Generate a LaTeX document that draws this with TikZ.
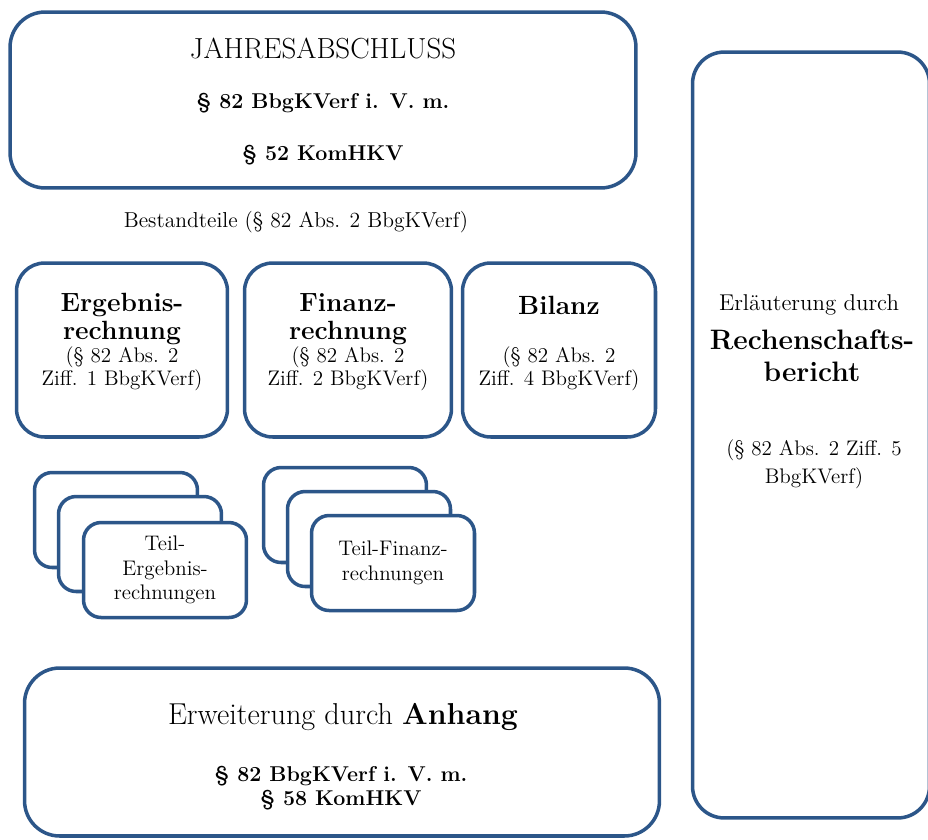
\documentclass[tikz,border=0pt]{standalone}
\usepackage{tikz}
\usetikzlibrary{positioning}
\definecolor{FrameBlue}{HTML}{2C5689}

\begin{document}
\begin{tikzpicture}[
  x=0.02cm,y=-0.02cm,
  box/.style={draw=FrameBlue,line width=2pt,rounded corners=16pt,fill=white,inner sep=0pt},
  card/.style={draw=FrameBlue,line width=2pt,rounded corners=10pt,fill=white,inner sep=0pt,
               minimum width=3.26cm,minimum height=1.9cm,align=center,
               font=\fontsize{12}{14}\selectfont},
  head/.style={align=center,inner sep=0pt,font=\bfseries\fontsize{15}{16}\selectfont},
  ref/.style={align=center,inner sep=0pt,font=\fontsize{12}{13}\selectfont},
  law/.style={align=center,inner sep=0pt,font=\bfseries\fontsize{12.2}{14}\selectfont},
]
\useasboundingbox (0,0) rectangle (928,839);

% Jahresabschluss
\node[box,rounded corners=20pt,minimum width=12.52cm,minimum height=3.52cm] (jab) at (323,100) {};
\node[inner sep=0pt,font=\fontsize{16.5}{18}\selectfont] (jabtitle) at (323,48) {JAHRESABSCHLUSS};
\node[law] (jablaw1) at (323,103) {\S\ 82 BbgKVerf i. V. m.};
\node[law] (jablaw2) at (323,155) {\S\ 52 KomHKV};
\node[inner sep=0pt,font=\fontsize{12.3}{14}\selectfont] (bestand) at (296,222) {Bestandteile (\S\ 82 Abs. 2 BbgKVerf)};

% Bestandteile
\node[box,minimum width=4.22cm,minimum height=3.48cm] (erg) at (122,350) {};
\node[box,minimum width=4.14cm,minimum height=3.48cm] (fin) at (348,350) {};
\node[box,minimum width=3.86cm,minimum height=3.48cm] (bil) at (559,350) {};
\node[head] (ergtitle) at (122,319) {Ergebnis-\\rechnung};
\node[ref] (ergref) at (122,369) {(\S\ 82 Abs. 2\\Ziff. 1 BbgKVerf)};
\node[head] (fintitle) at (348,319) {Finanz-\\rechnung};
\node[ref] (finref) at (348,369) {(\S\ 82 Abs. 2\\Ziff. 2 BbgKVerf)};
\node[head] (biltitle) at (559,305) {Bilanz};
\node[ref] (bilref) at (559,369) {(\S\ 82 Abs. 2\\Ziff. 4 BbgKVerf)};

% Teilrechnungen
\foreach \d in {0,24}
  \node[card] at (116+\d,520+\d) {};
\node[card] (teilerg) at (165,570) {Teil-\\Ergebnis-\\rechnungen};
\foreach \d in {0,24}
  \node[card] at (345+\d,515+\d) {};
\node[card] (teilfin) at (393,563) {Teil-Finanz-\\rechnungen};

% Rechenschaftsbericht
\node[box,rounded corners=18pt,minimum width=4.74cm,minimum height=15.32cm] (rb) at (811,435) {};
\node[inner sep=0pt,font=\fontsize{13}{14}\selectfont] (rbintro) at (809,305) {Erl\"auterung durch};
\node[align=center,inner sep=0pt,font=\bfseries\fontsize{16}{18}\selectfont] (rbtitle) at (812,356) {Rechenschafts-\\bericht};
\node[ref,font=\fontsize{12}{16}\selectfont] (rbref) at (814,464) {(\S\ 82 Abs. 2 Ziff. 5\\BbgKVerf)};

% Anhang
\node[box,rounded corners=20pt,minimum width=12.7cm,minimum height=3.36cm] (anh) at (342,752) {};
\node[inner sep=0pt,font=\fontsize{17.2}{19}\selectfont] (anhtitle) at (343,717) {Erweiterung durch \textbf{Anhang}};
\node[law] (anhlaw) at (341,788) {\S\ 82 BbgKVerf i. V. m.\\\S\ 58 KomHKV};
\end{tikzpicture}
\end{document}
